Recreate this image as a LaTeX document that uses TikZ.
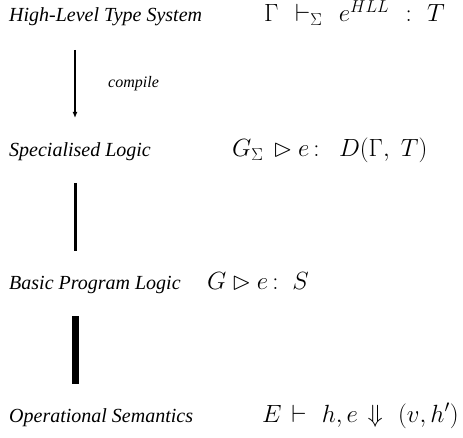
\documentclass[tikz,border=0pt]{standalone}
\usepackage{fontspec}
\setmainfont{Liberation Serif}
\usepackage{latexsym}
\usetikzlibrary{arrows.meta}
\newcommand{\gp}[1]{\mskip #1mu}
\begin{document}
\begin{tikzpicture}[x=1pt,y=1pt,
  lab/.style={anchor=base west,inner sep=0pt,font=\fontsize{20}{22}\selectfont\itshape},
  frm/.style={anchor=base west,inner sep=0pt,font=\fontsize{23}{25}\selectfont},
  small/.style={anchor=base west,inner sep=0pt,font=\fontsize{16}{18}\selectfont\itshape}]
\useasboundingbox (0,0) rectangle (463,437);
\node[lab] (l1) at (9,415) {High-Level Type System};
\node[frm] (f1) at (264,415) {$\Gamma\gp{7}\vdash_{\Sigma}\gp{7} e^{HLL}\gp{7}:\gp{6}T$};
\node[lab] (l2) at (9,280) {Specialised Logic};
\node[frm] (f2) at (232,280) {$G_{\Sigma}\gp{3}\rhd e\gp{3}{:}\gp{14}D(\Gamma,\gp{5}T)$};
\node[lab] (l3) at (9,148) {Basic Program Logic};
\node[frm] (f3) at (207,148) {$G\rhd e\gp{3}{:}\gp{10}S$};
\node[lab] (l4) at (9,15) {Operational Semantics};
\node[frm] (f4) at (262,15) {$E\gp{2}\vdash\gp{6}h,e\gp{2}\Downarrow\gp{6}(v,h')$};
\node[small] (c) at (108,349) {compile};
\coordinate (a1) at (75,387);
\coordinate (a2) at (75,319);
\coordinate (b1) at (75,254);
\coordinate (b2) at (75,186);
\coordinate (d1) at (75,121);
\coordinate (d2) at (75,53);
\draw[line width=1.8pt,-{Latex[length=6pt,width=5pt]}] (a1) -- (a2);
\draw[line width=3pt] (b1) -- (b2);
\draw[line width=7pt] (d1) -- (d2);
\end{tikzpicture}
\end{document}
